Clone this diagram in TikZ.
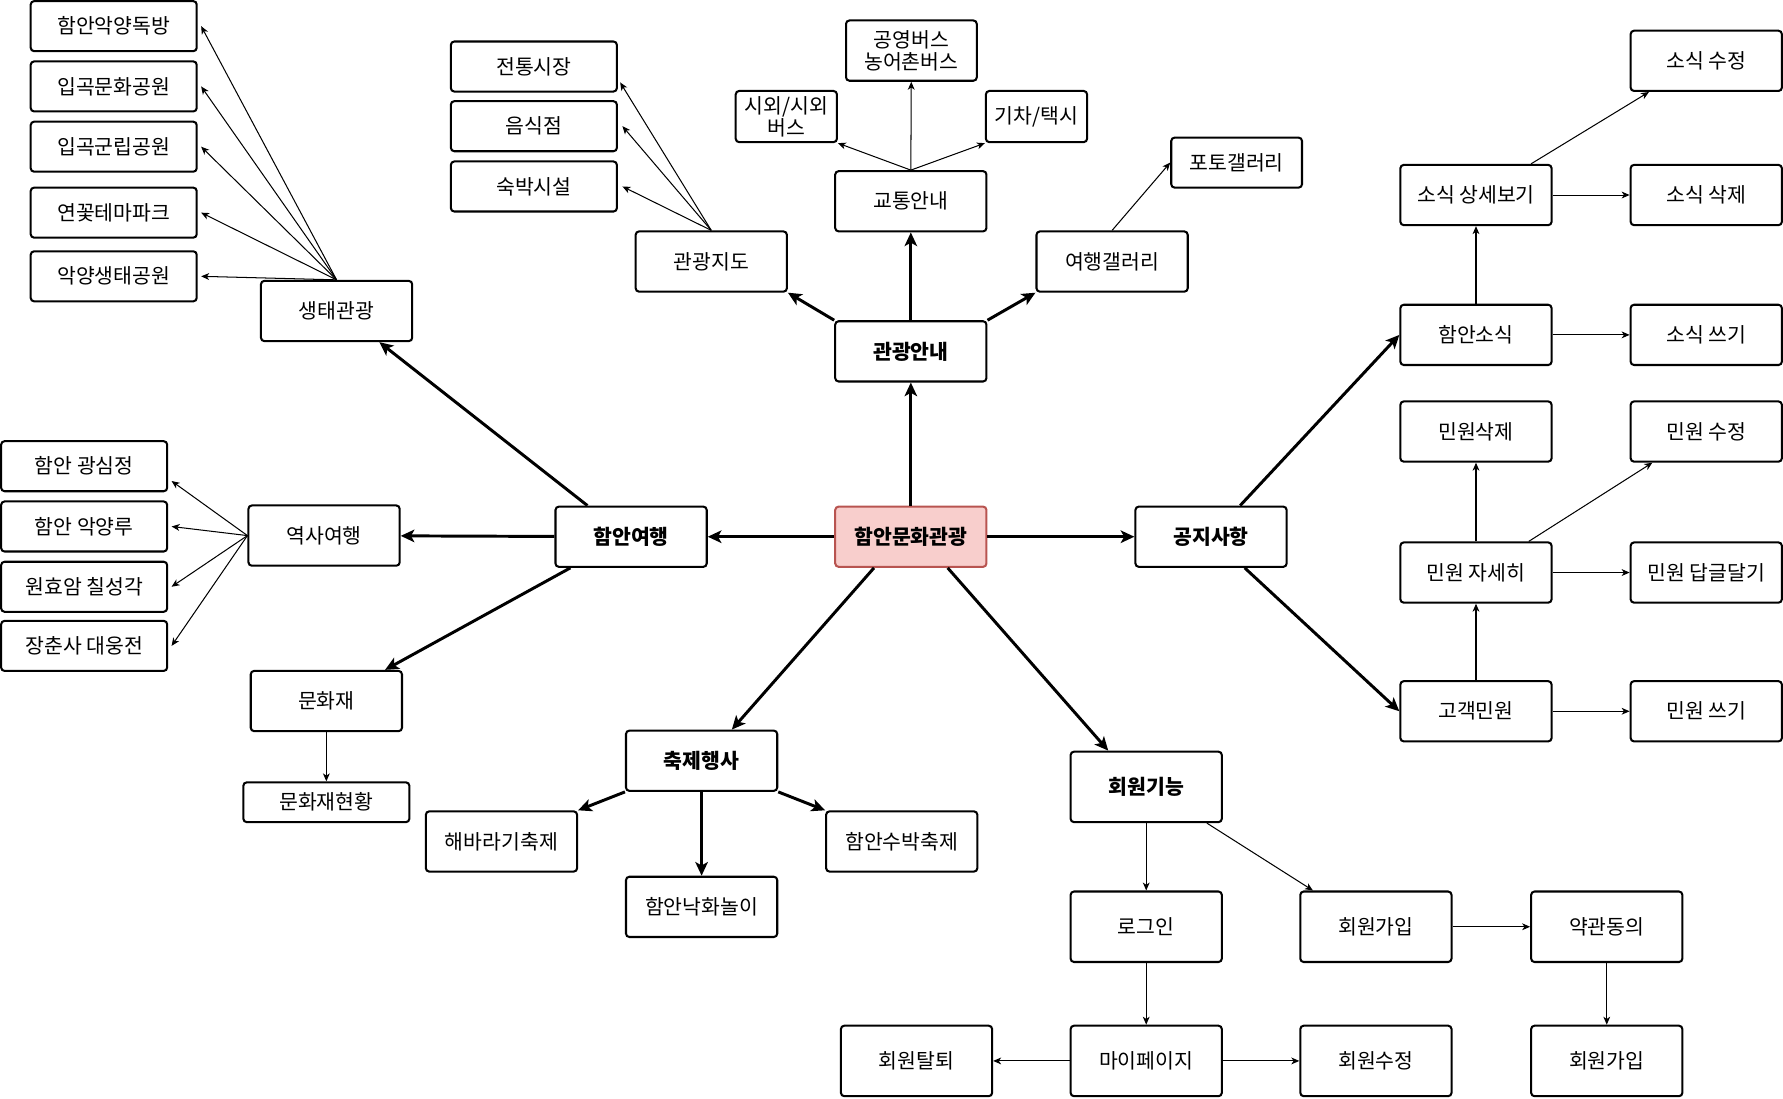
\documentclass[tikz,border=0pt]{standalone}
\usepackage{fontspec}
\setmainfont{Noto Sans CJK KR}
\usetikzlibrary{arrows.meta}
\definecolor{hubfill}{HTML}{F8CECC}
\definecolor{hubline}{HTML}{B85450}
\begin{document}
\begin{tikzpicture}[x=1pt, y=-1pt]
            \tikzstyle{box} = [draw, line width=1.8pt, rounded corners=3pt, inner sep=0pt, align=center, minimum width=133pt, minimum height=53pt, font=\fontsize{18}{19}\selectfont]
            \tikzstyle{small} = [box, minimum width=146pt, minimum height=44pt]
            \tikzstyle{tall} = [box, minimum height=62pt]
            \tikzstyle{main} = [box, font=\fontsize{18}{19}\selectfont\bfseries]
            \tikzstyle{hub} = [main, draw=hubline, fill=hubfill]
            \tikzstyle{link} = [line width=2.6pt, -{Stealth[length=12pt, width=11pt, inset=3pt]}]
            \tikzstyle{sublink} = [line width=0.9pt, -{Stealth[length=7pt, width=6pt, inset=2pt]}]
            \useasboundingbox (0, 0) rectangle (1568, 966);
            \node[hub] (hub) at (801, 472) {함안문화관광};
            \node[main] (tour) at (801, 309) {관광안내};
            \node[main] (trip) at (555, 472) {함안여행};
            \node[main] (notice) at (1065, 472) {공지사항};
            \node[main] (festival) at (617, 669) {축제행사};
            \node[main, minimum height=62pt] (member) at (1008, 692) {회원기능};
            \node[box] (traffic) at (801, 177) {교통안내};
            \node[box, minimum width=115pt] (bus) at (801.5, 44.5) {공영버스\\농어촌버스};
            \node[box, minimum width=89pt, minimum height=45pt] (intercity) at (691.5, 102.5) {시외/시외\\버스};
            \node[box, minimum width=89pt, minimum height=45pt] (train) at (911.5, 102.5) {기차/택시};
            \node[box, minimum width=115pt, minimum height=44pt] (photo) at (1087.5, 143) {포토갤러리};
            \node[box] (gallery) at (978, 230) {여행갤러리};
            \node[box] (map) at (625.5, 230) {관광지도};
            \node[small] (market) at (469.5, 58.5) {전통시장};
            \node[small] (food) at (469.5, 111) {음식점};
            \node[small] (stay) at (469.5, 164) {숙박시설};
            \node[box] (eco) at (296, 273.5) {생태관광};
            \node[small] (eco1) at (100, 23) {함안악양독방};
            \node[small] (eco2) at (100, 76) {입곡문화공원};
            \node[small] (eco3) at (100, 129) {입곡군립공원};
            \node[small] (eco4) at (100, 187) {연꽃테마파크};
            \node[small] (eco5) at (100, 243) {악양생태공원};
            \node[box] (history) at (285, 471) {역사여행};
            \node[small] (his1) at (74, 410) {함안 광심정};
            \node[small] (his2) at (74, 463) {함안 악양루};
            \node[small] (his3) at (74, 516) {원효암 칠성각};
            \node[small] (his4) at (74, 568) {장춘사 대웅전};
            \node[box] (heritage) at (287, 616.5) {문화재};
            \node[small, minimum height=35pt] (herlist) at (287, 705.5) {문화재현황};
            \node[box] (sun) at (441, 740) {해바라기축제};
            \node[box] (fire) at (617, 797.5) {함안낙화놀이};
            \node[box] (melon) at (793, 740) {함안수박축제};
            \node[box] (news) at (1298, 294.5) {함안소식};
            \node[box] (newsview) at (1298, 171.5) {소식 상세보기};
            \node[box] (newsedit) at (1500.5, 53.5) {소식 수정};
            \node[box] (newsdel) at (1500.5, 171.5) {소식 삭제};
            \node[box] (newswrite) at (1500.5, 294.5) {소식 쓰기};
            \node[box] (claimdel) at (1298, 379.5) {민원삭제};
            \node[box] (claimedit) at (1500.5, 379.5) {민원 수정};
            \node[box] (claimview) at (1298, 503.5) {민원 자세히};
            \node[box] (claimreply) at (1500.5, 503.5) {민원 답글달기};
            \node[box] (claim) at (1298, 625.5) {고객민원};
            \node[box] (claimwrite) at (1500.5, 625.5) {민원 쓰기};
            \node[tall] (login) at (1008, 815) {로그인};
            \node[tall] (join) at (1210, 815) {회원가입};
            \node[tall] (terms) at (1413, 815) {약관동의};
            \node[tall] (leave) at (806, 933) {회원탈퇴};
            \node[tall] (mypage) at (1008, 933) {마이페이지};
            \node[tall] (modify) at (1210, 933) {회원수정};
            \node[tall] (join2) at (1413, 933) {회원가입};
            \draw[link] (hub) -- (tour);
            \draw[link] (hub) -- (trip);
            \draw[link] (hub) -- (notice);
            \draw[link] ([xshift=35pt]hub.south west) -- ([xshift=94pt]festival.north west);
            \draw[link] ([xshift=-35pt]hub.south east) -- ([xshift=34pt]member.north west);
            \draw[link] (tour) -- (traffic);
            \draw[link] (tour.north west) -- (map.south east);
            \draw[link] (tour.north east) -- (gallery.south west);
            \draw[link] ([xshift=29pt]trip.north west) -- ([xshift=105pt]eco.south west);
            \draw[link] (trip) -- (history);
            \draw[link] ([xshift=14pt]trip.south west) -- ([xshift=119pt]heritage.north west);
            \draw[link] ([xshift=93pt]notice.north west) -- (news.west);
            \draw[link] ([xshift=97pt]notice.south west) -- (claim.west);
            \draw[link] (festival.south west) -- (sun.north east);
            \draw[link] (festival) -- (fire);
            \draw[link] (festival.south east) -- (melon.north west);
            \draw[sublink] (traffic.north) -- (intercity.south east);
            \draw[sublink] (traffic.north) -- (bus);
            \draw[sublink] (traffic.north) -- (train.south west);
            \draw[sublink] (gallery.north) -- (photo.west);
            \draw[sublink] (map.north) -- ([xshift=2pt, yshift=-14pt]market.east);
            \draw[sublink] (map.north) -- ([xshift=4pt]food.east);
            \draw[sublink] (map.north) -- ([xshift=4pt]stay.east);
            \foreach \n in {eco1, eco2, eco3, eco4, eco5}
                \draw[sublink] (eco.north) -- ([xshift=3pt]\n.east);
            \draw[sublink] (history.west) -- ([xshift=3pt, yshift=-13pt]his1.east);
            \foreach \n in {his2, his3, his4}
                \draw[sublink] (history.west) -- ([xshift=3pt]\n.east);
            \draw[sublink] (heritage) -- (herlist);
            \draw[sublink] (news) -- (newsview);
            \draw[sublink] (news) -- (newswrite);
            \draw[sublink] (newsview) -- (newsdel);
            \draw[sublink] ([xshift=-19pt]newsview.north east) -- ([xshift=17pt]newsedit.south west);
            \draw[sublink] (claim) -- (claimview);
            \draw[sublink] (claim) -- (claimwrite);
            \draw[sublink] (claimview) -- (claimdel);
            \draw[sublink] (claimview) -- (claimreply);
            \draw[sublink] ([xshift=-21pt]claimview.north east) -- ([xshift=20pt]claimedit.south west);
            \draw[sublink] (member) -- (login);
            \draw[sublink] ([xshift=-14pt]member.south east) -- ([xshift=12pt]join.north west);
            \draw[sublink] (join) -- (terms);
            \draw[sublink] (terms) -- (join2);
            \draw[sublink] (login) -- (mypage);
            \draw[sublink] (mypage) -- (leave);
            \draw[sublink] (mypage) -- (modify);
        \end{tikzpicture}
\end{document}
